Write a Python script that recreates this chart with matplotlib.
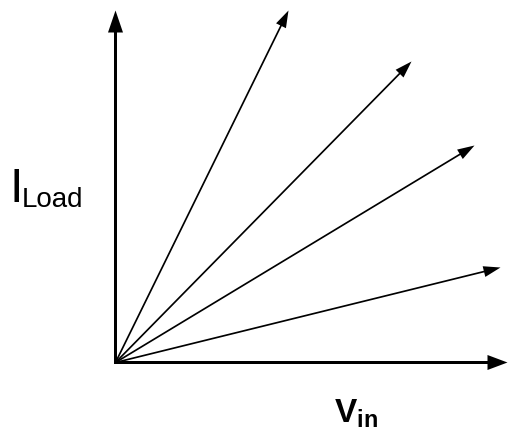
import matplotlib.pyplot as plt

# ray end points (current vs voltage for different loads)
ray_x = [173, 296, 359, 385]
ray_y = [352, 301, 217, 95]

# axis extents
x_axis_len = 392
y_axis_len = 352

x_label = r"$\mathbf{V_{in}}$"
y_label_main = "I"
y_label_sub = "Load"


def main():
    plt.rcParams['font.family'] = ['Liberation Sans', 'DejaVu Sans']
    plt.rcParams['mathtext.fontset'] = 'custom'
    plt.rcParams['mathtext.rm'] = 'Liberation Sans'
    plt.rcParams['mathtext.bf'] = 'Liberation Sans:bold'
    fig = plt.figure(figsize=(5.09, 4.30), dpi=100)
    ax = fig.add_axes([0, 0, 1, 1])
    ax.set_xlim(-115.5, 393.5)
    ax.set_ylim(-67.5, 362.5)
    ax.axis('off')

    # axes with arrow heads
    ax.arrow(-1.5, 0, x_axis_len + 1.5, 0, width=3, head_width=15, head_length=20,
             length_includes_head=True, color='black', lw=0)
    ax.arrow(0, -1.5, 0, y_axis_len + 1.5, width=3, head_width=15, head_length=22,
             length_includes_head=True, color='black', lw=0)

    # rays from the origin
    for x, y in zip(ray_x, ray_y):
        ax.arrow(0, 0, x, y, width=1.7, head_width=11, head_length=17,
                 length_includes_head=True, color='black', lw=0)

    # labels
    ax.text(-105.5, 160, y_label_main, fontsize=35, ha='left', va='baseline')
    ax.text(-94, 155.5, y_label_sub, fontsize=20, ha='left', va='baseline')
    ax.text(218.5, -60.5, x_label, fontsize=24, ha='left', va='baseline')

    fig.savefig("out.png", dpi=100)


if __name__ == "__main__":
    main()
